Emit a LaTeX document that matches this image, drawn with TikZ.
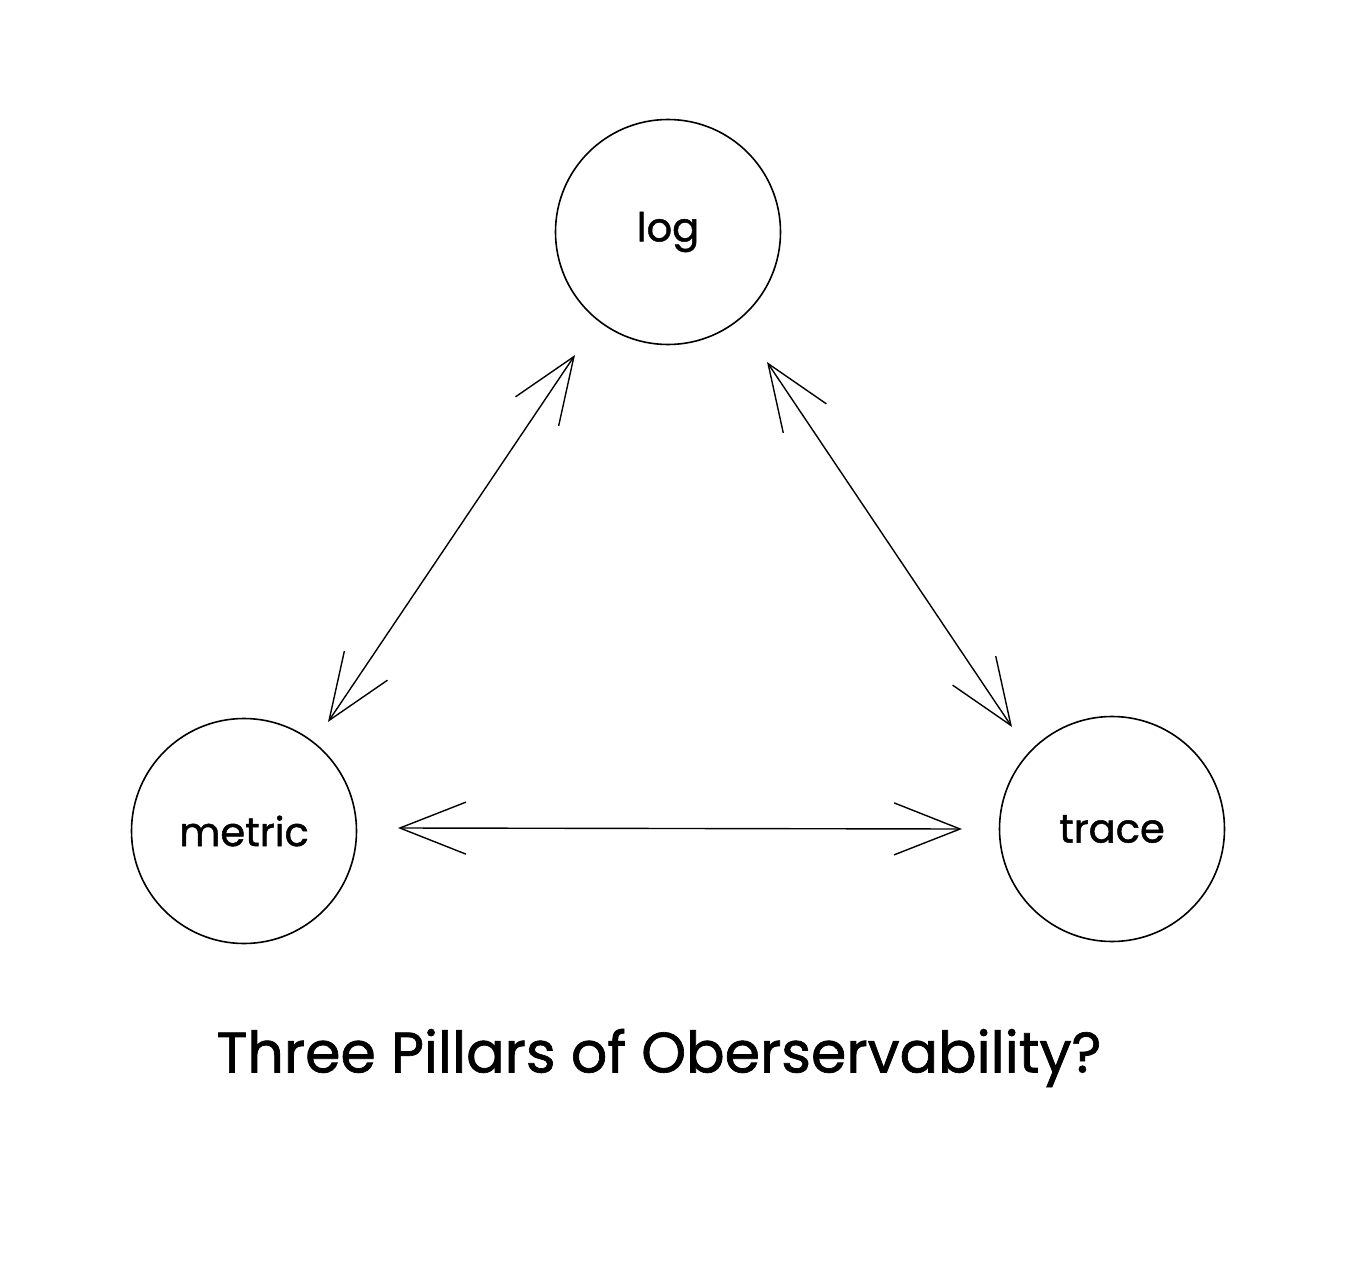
\documentclass[tikz,border=0pt]{standalone}
\usepackage{fontspec}
\setmainfont{Poppins}[FakeBold=1.2]
\usetikzlibrary{arrows.meta}
\begin{document}
\begin{tikzpicture}[x=1pt,y=-1pt,
  pillar/.style={circle,draw,line width=1.6pt,minimum size=225pt,inner sep=0pt,
    font=\fontsize{40}{46}\selectfont},
  link/.style={line width=1.4pt,{Straight Barb[length=66pt,width=52pt]}-{Straight Barb[length=66pt,width=52pt]}},
  title/.style={font=\fontsize{57}{66}\selectfont}]
\useasboundingbox (0,0) rectangle (1366,1284);
\node[pillar] (log) at (668,232) {log};
\node[pillar] (metric) at (244,831) {metric};
\node[pillar] (trace) at (1112,829) {trace};
\draw[link] ([shift={(-93,123)}]log.center) -- ([shift={(84,-109)}]metric.center);
\draw[link] ([shift={(99,130)}]log.center) -- ([shift={(-100,-102)}]trace.center);
\draw[link] ([shift={(154,-3)}]metric.center) -- ([shift={(-150,0)}]trace.center);
\node[title] (caption) at (659,1058) {Three Pillars of Oberservability?};
\end{tikzpicture}
\end{document}
